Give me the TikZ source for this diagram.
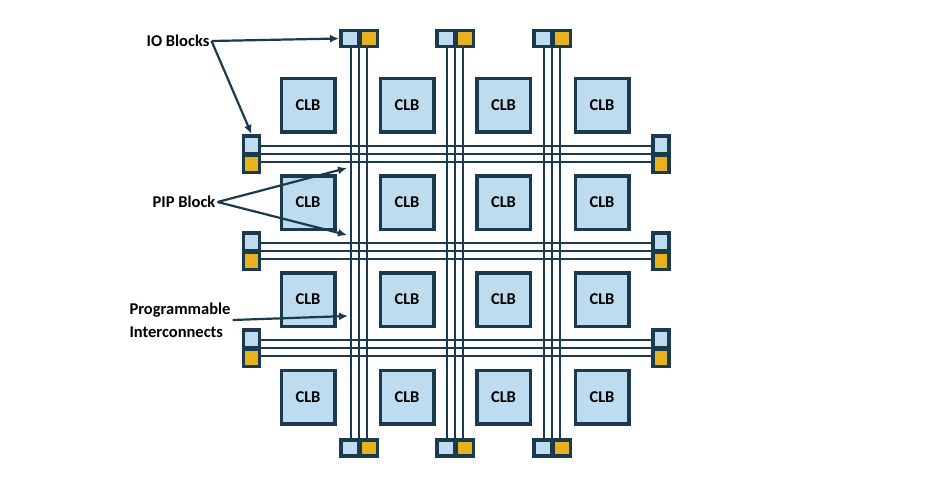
\documentclass[tikz,border=0pt]{standalone}
\usepackage{xcolor}
\usepackage{fontspec}
\setmainfont{Carlito}
\usetikzlibrary{arrows.meta,calc}

\definecolor{wire}{HTML}{1B3A4D}
\definecolor{clbfill}{HTML}{BEDCF0}
\definecolor{iogold}{HTML}{E8B11E}

\begin{document}
\begin{tikzpicture}[x=1pt,y=-1pt,
	clb/.style={draw=wire,line width=3.5pt,fill=clbfill,minimum size=53.5pt,inner sep=0pt,font=\bfseries\fontsize{16.5}{18}\selectfont},
	iotop/.style={draw=wire,line width=3.5pt,minimum width=17.5pt,minimum height=16pt,inner sep=0pt},
	ioside/.style={draw=wire,line width=3.5pt,minimum width=16pt,minimum height=17.5pt,inner sep=0pt},
	route/.style={draw=wire,line width=2.6pt},
	lbl/.style={font=\bfseries\fontsize{16.5}{23}\selectfont,text=black,inner sep=2pt},
	pointer/.style={draw=wire,line width=2.2pt,-{Latex[length=9pt,width=8pt]}}
	]
					% We will draw the FPGA grid here
					\fill[white] (0,0) rectangle (950,477);
					
					% IO blocks top / bottom
					\foreach \cx [count=\i] in {359,455,552}{
						\node[iotop,fill=clbfill] (tA\i) at (\cx-9.5,38.5) {};
						\node[iotop,fill=iogold] (tB\i) at (\cx+9.5,38.5) {};
						\node[iotop,fill=clbfill] (bA\i) at (\cx-9.5,448) {};
						\node[iotop,fill=iogold] (bB\i) at (\cx+9.5,448) {};
					}
					% IO blocks left / right
					\foreach \cy [count=\i] in {154,251,348}{
						\node[ioside,fill=clbfill] (lA\i) at (251.5,\cy-9.5) {};
						\node[ioside,fill=iogold] (lB\i) at (251.5,\cy+9.5) {};
						\node[ioside,fill=clbfill] (rA\i) at (661,\cy-9.5) {};
						\node[ioside,fill=iogold] (rB\i) at (661,\cy+9.5) {};
					}
					
					% routing channels
					\foreach \i in {1,2,3}{
						\foreach \d in {-8,0,8}{
							\draw[route] ($(tA\i.south east)!0.5!(tB\i.south west)+(\d,0)$) -- ($(bA\i.north east)!0.5!(bB\i.north west)+(\d,0)$);
							\draw[route] ($(lA\i.south east)!0.5!(lB\i.north east)+(0,\d)$) -- ($(rA\i.south west)!0.5!(rB\i.north west)+(0,\d)$);
						}
					}
					\foreach \cx in {359,455,552}
						\foreach \cy in {154,251,348}
							\foreach \dx in {-8,0,8}
								\foreach \dy in {-8,0,8}
									\fill[wire] (\cx+\dx,\cy+\dy) circle (1.8pt);
					
					% CLBs
					\foreach \x [count=\c] in {308,407,503.5,602}
						\foreach \y [count=\r] in {105,202.5,299.5,397}
							\node[clb] (clb\r\c) at (\x,\y) {CLB};
					
					% labels
					\node[lbl] (io) at (178,41) {IO Blocks};
					\draw[pointer] (io.east) -- (tA1.west);
					\draw[pointer] (io.east) -- (lA1.north);
					
					\node[lbl] (pip) at (184,202) {PIP Block};
					\coordinate (pipA) at (347,168);
					\coordinate (pipB) at (347,235);
					\draw[pointer] (pip.east) -- (pipA);
					\draw[pointer] (pip.east) -- (pipB);
					
					\node[lbl,align=left] (prog) at (180,320) {Programmable\\Interconnects};
					\coordinate (progEnd) at (348,316);
					\draw[pointer] (prog.east) -- (progEnd);
					
				\end{tikzpicture}
\end{document}
